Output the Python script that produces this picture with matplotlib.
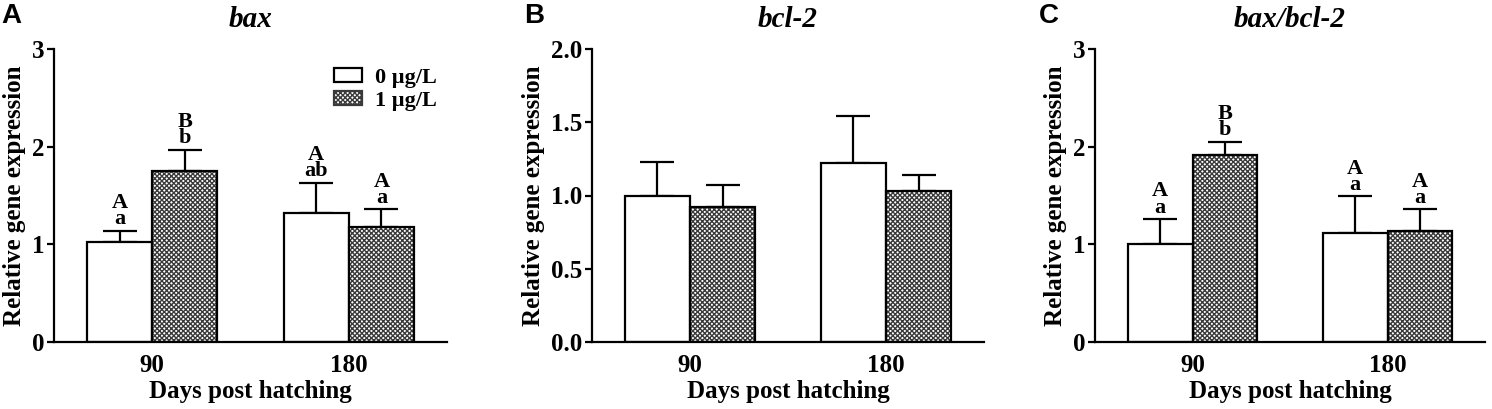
import matplotlib
matplotlib.use("Agg")
import matplotlib.pyplot as plt
import numpy as np
from matplotlib.patches import Patch

plt.rcParams['font.family'] = 'Liberation Serif'
plt.rcParams['font.weight'] = 'bold'
plt.rcParams['hatch.linewidth'] = 1.0

days = ["90", "180"]
groups = ["0 \u00b5g/L", "1 \u00b5g/L"]

# panel data: means and upper SEM for 0 ug/L and 1 ug/L
bax_ctrl = [1.02, 1.32]
bax_ctrl_err = [0.12, 0.31]
bax_trt = [1.75, 1.18]
bax_trt_err = [0.22, 0.18]
bax_ctrl_lbl = ["A\na", "A\nab"]
bax_trt_lbl = ["B\nb", "A\na"]

bcl_ctrl = [1.00, 1.22]
bcl_ctrl_err = [0.23, 0.32]
bcl_trt = [0.92, 1.03]
bcl_trt_err = [0.15, 0.11]

ratio_ctrl = [1.00, 1.12]
ratio_ctrl_err = [0.26, 0.37]
ratio_trt = [1.91, 1.14]
ratio_trt_err = [0.14, 0.22]
ratio_ctrl_lbl = ["A\na", "A\na"]
ratio_trt_lbl = ["B\nb", "A\na"]

W = 1492
H = 409
fig = plt.figure(figsize=(W / 100, H / 100), dpi=100)

HATCH = 'xxxxxxx'
BW = 0.332
FS = 18


def draw_panel(rect, letter, letter_x, title, ctrl, ctrl_err, trt, trt_err, ylim, yticks, yfmt,
               ctrl_lbl=None, trt_lbl=None, legend=False):
    ax = fig.add_axes(rect)
    x = np.arange(len(days))
    xc = x - BW / 2
    xt = x + BW / 2
    ax.bar(xc, ctrl, BW, color='white', edgecolor='black', linewidth=1.6, zorder=2)
    ax.bar(xt, trt, BW, color='white', edgecolor='#3a3a3a', hatch=HATCH, linewidth=0, zorder=2)
    ax.bar(xt, trt, BW, fill=False, edgecolor='black', linewidth=1.6, zorder=3)
    ax.errorbar(xc, ctrl, yerr=[np.zeros(len(ctrl)), ctrl_err], fmt='none', ecolor='black',
                elinewidth=1.6, capsize=12, capthick=1.6, zorder=1)
    ax.errorbar(xt, trt, yerr=[np.zeros(len(trt)), trt_err], fmt='none', ecolor='black',
                elinewidth=1.6, capsize=12, capthick=1.6, zorder=1)
    if ctrl_lbl is not None:
        for xs, ys, es, ls in [(xc, ctrl, ctrl_err, ctrl_lbl), (xt, trt, trt_err, trt_lbl)]:
            for xi, yi, ei, li in zip(xs, ys, es, ls):
                ax.annotate(li, (xi, yi + ei), xytext=(0, 1), textcoords='offset points',
                            ha='center', va='bottom', fontsize=16, fontweight='bold',
                            linespacing=0.75)
    ax.set_xlim(-0.5, 1.5)
    ax.set_ylim(*ylim)
    ax.set_yticks(yticks)
    ax.set_yticklabels([yfmt.format(v) for v in yticks])
    ax.set_xticks(x)
    ax.set_xticklabels(days)
    ax.tick_params(axis='x', length=0, pad=9, labelsize=FS)
    ax.tick_params(axis='y', length=5, width=1.6, direction='out', labelsize=FS, pad=2)
    for s in ['top', 'right']:
        ax.spines[s].set_visible(False)
    for s in ['left', 'bottom']:
        ax.spines[s].set_linewidth(1.6)
    for lab in ax.get_xticklabels() + ax.get_yticklabels():
        lab.set_fontweight('bold')
    ax.set_xlabel("Days post hatching", fontsize=FS, fontweight='bold', labelpad=2)
    ax.set_ylabel("Relative gene expression", fontsize=FS, fontweight='bold', labelpad=4)
    ax.set_title(title, fontsize=21, fontweight='bold', style='italic', pad=16)
    fig.text(letter_x / W, 1 - 16 / H, letter, fontsize=20, fontweight='bold',
             family='Liberation Sans', ha='left', va='center')
    if legend:
        handles = [Patch(facecolor='white', edgecolor='black', linewidth=1.6),
                   Patch(facecolor='white', edgecolor='#3a3a3a', hatch=HATCH, linewidth=1.6)]
        ax.legend(handles, groups, loc='upper right', bbox_to_anchor=(0.975, 0.935), frameon=False,
                  prop={'size': 16, 'weight': 'bold'}, handlelength=1.25, handleheight=0.6,
                  labelspacing=0.12, handletextpad=0.6, borderaxespad=0, borderpad=0)
    return ax


bottom = (H - 342) / H
height = (342 - 49) / H
draw_panel([54 / W, bottom, 393 / W, height], "A", 1, "bax", bax_ctrl, bax_ctrl_err,
           bax_trt, bax_trt_err, (0, 3), [0, 1, 2, 3], "{:.0f}",
           bax_ctrl_lbl, bax_trt_lbl, legend=True)
draw_panel([592 / W, bottom, 392 / W, height], "B", 524, "bcl-2", bcl_ctrl, bcl_ctrl_err,
           bcl_trt, bcl_trt_err, (0, 2), [0, 0.5, 1.0, 1.5, 2.0], "{:.1f}")
draw_panel([1095 / W, bottom, 390 / W, height], "C", 1039, "bax/bcl-2", ratio_ctrl, ratio_ctrl_err,
           ratio_trt, ratio_trt_err, (0, 3), [0, 1, 2, 3], "{:.0f}",
           ratio_ctrl_lbl, ratio_trt_lbl)

fig.savefig("out.png", dpi=100)
